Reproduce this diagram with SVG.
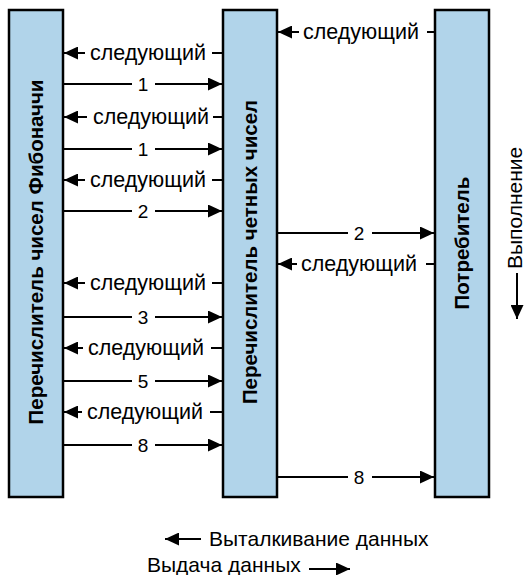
<svg xmlns="http://www.w3.org/2000/svg" width="525" height="575" viewBox="0 0 525 575">
<defs>
<marker id="ah" viewBox="0 0 14 13" refX="14" refY="6.5" markerWidth="14" markerHeight="13" markerUnits="userSpaceOnUse" orient="auto-start-reverse">
<path d="M0,0 L14,6.5 L0,13 z" fill="#000"/>
</marker>
</defs>
<style>
.box{fill:#b1d4ea;stroke:#000;stroke-width:2.5}
.lbl{font-family:"Liberation Sans",Arial,sans-serif;font-weight:bold;font-size:20.5px;fill:#000;text-anchor:middle}
.nx{font-family:"Liberation Sans",Arial,sans-serif;font-size:21.5px;fill:#000}
.num{font-family:"Liberation Sans",Arial,sans-serif;font-size:19px;fill:#000;text-anchor:middle}
.ln{stroke:#000;stroke-width:2;fill:none}
.ar{stroke:#000;stroke-width:2;fill:none;marker-end:url(#ah)}
.leg{font-family:"Liberation Sans",Arial,sans-serif;font-size:21px;fill:#000}
</style>
<rect width="525" height="575" fill="#fff"/>
<g id="fib">
<rect class="box" x="9" y="10" width="54" height="487"/>
<text class="lbl" transform="translate(43,252) rotate(-90)">Перечислитель чисел Фибоначчи</text>
</g>
<g id="even">
<rect class="box" x="223" y="10" width="54" height="487"/>
<text class="lbl" transform="translate(257,252) rotate(-90)">Перечислитель четных чисел</text>
</g>
<g id="consumer">
<rect class="box" x="435" y="10" width="54" height="487"/>
<text class="lbl" transform="translate(469,243) rotate(-90)">Потребитель</text>
</g>
<g id="connectors">
<g>
<path class="ar" d="M85,53 H64"/><path class="ln" d="M212,53 H222"/>
<text class="nx" x="90" y="60">следующий</text>
<path class="ar" d="M87,117 H64"/><path class="ln" d="M213,117 H222"/>
<text class="nx" x="93" y="124">следующий</text>
<path class="ar" d="M85,180 H64"/><path class="ln" d="M212,180 H222"/>
<text class="nx" x="90" y="187">следующий</text>
<path class="ar" d="M85,283 H64"/><path class="ln" d="M212,283 H222"/>
<text class="nx" x="90" y="290">следующий</text>
<path class="ar" d="M83,348 H64"/><path class="ln" d="M211,348 H222"/>
<text class="nx" x="88" y="355">следующий</text>
<path class="ar" d="M82,412 H64"/><path class="ln" d="M210,412 H222"/>
<text class="nx" x="87" y="419">следующий</text>
</g>
<g>
<path class="ln" d="M64,84 H132"/><path class="ar" d="M155,84 H222"/><text class="num" x="143" y="91">1</text>
<path class="ln" d="M64,149 H132"/><path class="ar" d="M155,149 H222"/><text class="num" x="143" y="156">1</text>
<path class="ln" d="M64,211 H132"/><path class="ar" d="M155,211 H222"/><text class="num" x="143" y="218">2</text>
<path class="ln" d="M64,317 H132"/><path class="ar" d="M155,317 H222"/><text class="num" x="143" y="324">3</text>
<path class="ln" d="M64,381 H132"/><path class="ar" d="M155,381 H222"/><text class="num" x="143" y="388">5</text>
<path class="ln" d="M64,445 H132"/><path class="ar" d="M155,445 H222"/><text class="num" x="143" y="452">8</text>
</g>
<g>
<path class="ar" d="M299,32 H278"/><path class="ln" d="M427,32 H434"/>
<text class="nx" x="303" y="39">следующий</text>
<path class="ln" d="M278,233 H348"/><path class="ar" d="M372,233 H434"/><text class="num" x="359" y="240">2</text>
<path class="ar" d="M297,264 H278"/><path class="ln" d="M426,264 H434"/>
<text class="nx" x="301" y="271">следующий</text>
<path class="ln" d="M278,477 H348"/><path class="ar" d="M372,477 H434"/><text class="num" x="359" y="484">8</text>
</g>
</g>
<g id="exec">
<text class="leg" transform="translate(522,269) rotate(-90)">Выполнение</text>
<path class="ar" d="M517,273 V319"/>
</g>
<g id="legend">
<path class="ar" d="M201,539 H165"/>
<text class="leg" x="209" y="546">Выталкивание данных</text>
<text class="leg" x="147" y="572">Выдача данных</text>
<path class="ar" d="M309,569 H350"/>
</g>
</svg>
